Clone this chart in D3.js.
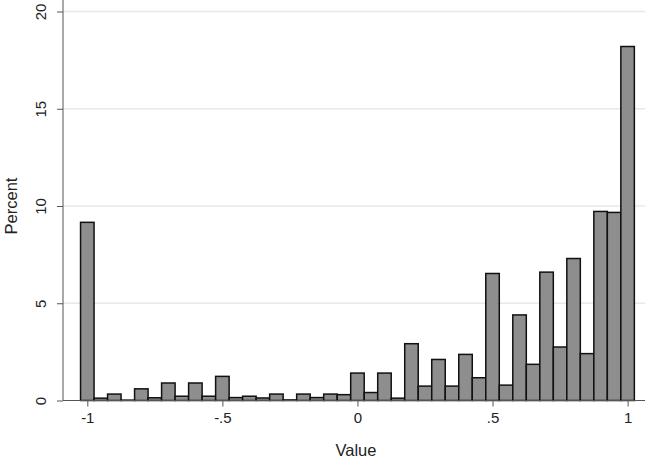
<!DOCTYPE html>
<html>
<head>
<meta charset="utf-8">
<script src="https://cdn.jsdelivr.net/npm/d3@7"></script>
<style>
  html, body { margin: 0; padding: 0; background: #fff; }
  svg { display: block; }
  text { font-family: "Liberation Sans", Arial, sans-serif; fill: #222; }
</style>
</head>
<body>
<svg id="chart" width="645" height="458"></svg>
<script>
// Bin centers (width 0.05) and percent per bin
const binCenters = [-1, -0.95, -0.9, -0.85, -0.8, -0.75, -0.7, -0.65, -0.6, -0.55,
  -0.5, -0.45, -0.4, -0.35, -0.3, -0.25, -0.2, -0.15, -0.1, -0.05,
  0, 0.05, 0.1, 0.15, 0.2, 0.25, 0.3, 0.35, 0.4, 0.45,
  0.5, 0.55, 0.6, 0.65, 0.7, 0.75, 0.8, 0.85, 0.9, 0.95, 1];
const percents = [9.16, 0.12, 0.33, 0.02, 0.6, 0.14, 0.9, 0.22, 0.9, 0.22,
  1.24, 0.15, 0.22, 0.13, 0.33, 0.03, 0.33, 0.15, 0.33, 0.3,
  1.41, 0.41, 1.41, 0.12, 2.92, 0.74, 2.11, 0.74, 2.37, 1.17,
  6.53, 0.79, 4.40, 1.86, 6.60, 2.75, 7.30, 2.41, 9.72, 9.67, 18.2];
const binWidth = 0.05;
const xTickValues = [-1, -0.5, 0, 0.5, 1];
const xTickLabels = ["-1", "-.5", "0", ".5", "1"];
const yTickValues = [0, 5, 10, 15, 20];
const yTickLabels = ["0", "5", "10", "15", "20"];

const svg = d3.select("#chart");
const x = d3.scaleLinear().domain([-1, 1]).range([87.3, 627.6]);
const y = d3.scaleLinear().domain([0, 20]).range([400.5, 11.5]);
const plotLeft = 63, plotRight = 645;

// gridlines
svg.append("g").selectAll("line")
  .data(yTickValues.filter(v => v > 0))
  .join("line")
  .attr("x1", plotLeft).attr("x2", plotRight)
  .attr("y1", d => y(d)).attr("y2", d => y(d))
  .attr("stroke", "#e8e8e8").attr("stroke-width", 1.3);

// bars
svg.append("g").selectAll("rect")
  .data(binCenters.map((c, i) => ({c, v: percents[i]})))
  .join("rect")
  .attr("x", d => x(d.c - binWidth / 2))
  .attr("width", d => x(d.c + binWidth / 2) - x(d.c - binWidth / 2))
  .attr("y", d => y(d.v))
  .attr("height", d => y(0) - y(d.v))
  .attr("fill", "#8e8e8e")
  .attr("stroke", "#111")
  .attr("stroke-width", 1.5);

// x axis
const xAxis = d3.axisBottom(x)
  .tickValues(xTickValues)
  .tickFormat((d, i) => xTickLabels[i])
  .tickSize(6).tickPadding(6).tickSizeOuter(0);
const gx = svg.append("g").attr("transform", `translate(0,${y(0)})`).call(xAxis);
gx.select(".domain").remove();
gx.selectAll(".tick line").attr("stroke", "#555");
gx.selectAll("text").attr("font-size", 15).style("font-family", "Liberation Sans, Arial, sans-serif").attr("fill", "#222");
svg.append("line").attr("x1", plotLeft).attr("x2", plotRight)
  .attr("y1", y(0)).attr("y2", y(0)).attr("stroke", "#555").attr("stroke-width", 1);

// y axis
const yAxis = d3.axisLeft(y)
  .tickValues(yTickValues)
  .tickFormat((d, i) => yTickLabels[i])
  .tickSize(6).tickSizeOuter(0);
const gy = svg.append("g").attr("transform", `translate(${plotLeft},0)`).call(yAxis);
gy.select(".domain").remove();
gy.selectAll(".tick line").attr("stroke", "#555");
gy.selectAll("text")
  .attr("x", null).attr("dy", null)
  .attr("text-anchor", "middle")
  .attr("transform", "translate(-22,0) rotate(-90)")
  .attr("y", 5)
  .attr("font-size", 15).style("font-family", "Liberation Sans, Arial, sans-serif").attr("fill", "#222");
svg.append("line").attr("x1", plotLeft).attr("x2", plotLeft)
  .attr("y1", 0).attr("y2", y(0)).attr("stroke", "#555").attr("stroke-width", 1);

// axis titles
svg.append("text").attr("x", 356).attr("y", 456)
  .attr("text-anchor", "middle").attr("font-size", 16.5).text("Value");
svg.append("text")
  .attr("transform", `translate(17,${y(10)}) rotate(-90)`)
  .attr("text-anchor", "middle").attr("font-size", 16.5).text("Percent");
</script>
</body>
</html>
